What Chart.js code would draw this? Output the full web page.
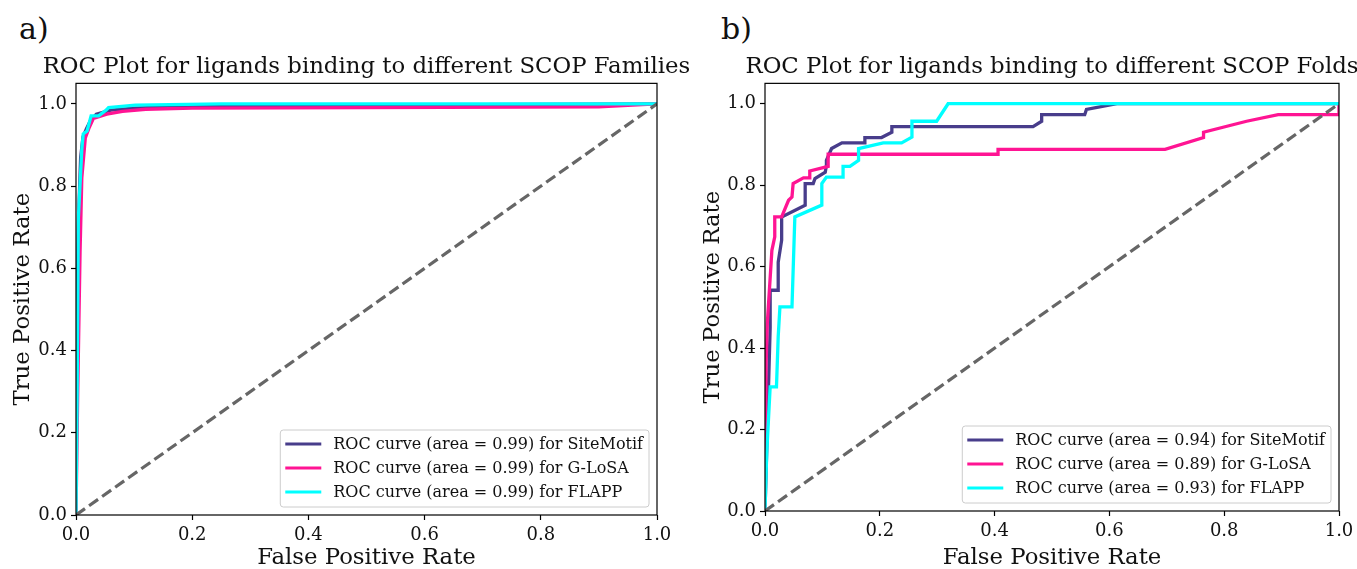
<!DOCTYPE html>
<html>
<head>
<meta charset="utf-8">
<script src="https://cdn.jsdelivr.net/npm/chart.js@4.4.1/dist/chart.umd.min.js"></script>
<style>
    html, body { margin: 0; padding: 0; background: #fff; overflow: hidden; }
    body { width: 1357px; height: 569px; position: relative; }
    .panel { position: absolute; top: 0; height: 569px; }
    .tag { position: absolute; top: 11px; font-family: 'DejaVu Serif', serif; font-size: 30px; color: #111; }
</style>
</head>
<body>
<div class="tag" style="left:19px">a)</div>
<div class="tag" style="left:721px">b)</div>
<div class="panel" style="left:0;width:733px"><canvas id="famChart"></canvas></div>
<div class="panel" style="left:690px;width:724px"><canvas id="foldChart"></canvas></div>
<script>
const SERIF = "'DejaVu Serif', serif";

const methods = ['SiteMotif', 'G-LoSA', 'FLAPP'];
const methodColors = ['#483d8b', '#ff1493', '#00ffff'];
const tickValues = [0, 0.2, 0.4, 0.6, 0.8, 1.0];

// a) SCOP families
const famAreas = [0.99, 0.99, 0.99];
const famFprSite = [0, 0.002, 0.005, 0.008, 0.012, 0.018, 0.025, 0.035, 0.06, 0.1, 0.2, 1.0];
const famTprSite = [0, 0.55, 0.75, 0.87, 0.92, 0.94, 0.96, 0.975, 0.985, 0.99, 0.995, 1.0];
const famFprGlo = [0, 0.003, 0.007, 0.01, 0.016, 0.022, 0.03, 0.053, 0.08, 0.12, 0.2, 0.5, 0.9, 1.0];
const famTprGlo = [0, 0.3, 0.64, 0.82, 0.917, 0.94, 0.965, 0.975, 0.982, 0.987, 0.99, 0.991, 0.993, 1.0];
const famFprFla = [0, 0.002, 0.004, 0.01, 0.0125, 0.019, 0.026, 0.039, 0.052, 0.056, 0.102, 0.25, 1.0];
const famTprFla = [0, 0.3, 0.72, 0.89, 0.927, 0.934, 0.971, 0.971, 0.985, 0.991, 0.997, 1.0, 1.0];

// b) SCOP folds
const foldAreas = [0.94, 0.89, 0.93];
const foldFprSite = [0, 0.003, 0.009, 0.009, 0.023, 0.023, 0.029, 0.029, 0.07, 0.07, 0.084, 0.087, 0.105, 0.107, 0.107,
    0.116, 0.134, 0.174, 0.174, 0.203, 0.221, 0.221, 0.467, 0.482, 0.482, 0.557, 0.56, 0.613, 1.0];
const foldTprSite = [0, 0.15, 0.45, 0.542, 0.542, 0.611, 0.665, 0.722, 0.751, 0.804, 0.804, 0.816, 0.832, 0.849, 0.861,
    0.89, 0.904, 0.904, 0.917, 0.917, 0.93, 0.944, 0.944, 0.957, 0.973, 0.973, 0.986, 1.0, 1.0];
const foldFprGlo = [0, 0.002, 0.004, 0.012, 0.017, 0.017, 0.029, 0.041, 0.047, 0.049, 0.067, 0.078, 0.078, 0.11, 0.11,
    0.406, 0.406, 0.697, 0.764, 0.764, 0.839, 0.894, 1.0, 1.0];
const foldTprGlo = [0, 0.363, 0.46, 0.64, 0.673, 0.722, 0.722, 0.763, 0.771, 0.804, 0.818, 0.818, 0.835, 0.846, 0.876,
    0.876, 0.888, 0.888, 0.917, 0.93, 0.957, 0.973, 0.973, 1.0];
const foldFprFla = [0, 0.003, 0.009, 0.02, 0.023, 0.026, 0.047, 0.052, 0.099, 0.099, 0.107, 0.136, 0.136, 0.148, 0.163,
    0.163, 0.206, 0.238, 0.256, 0.256, 0.299, 0.319, 1.0];
const foldTprFla = [0, 0.142, 0.305, 0.305, 0.428, 0.501, 0.501, 0.722, 0.751, 0.804, 0.82, 0.82, 0.846, 0.846, 0.861,
    0.89, 0.904, 0.904, 0.918, 0.957, 0.957, 1.0, 1.0];

const chancePoints = [0, 1];

function toPoints(xs, ys) {
    return xs.map((x, i) => ({ x, y: ys[i] }));
}

// box around the axes + matplotlib style legend in the lower right
const framePlugin = {
    id: 'frame',
    afterDraw(chart, args, opts) {
        const { ctx, chartArea: a } = chart;
        ctx.save();
        ctx.strokeStyle = '#000';
        ctx.lineWidth = 1.2;
        ctx.strokeRect(a.left, a.top, a.right - a.left, a.bottom - a.top);

        const items = opts.items || [];
        ctx.font = `16px ${SERIF}`;
        const textW = Math.max(...items.map((it) => ctx.measureText(it.label).width));
        const rowH = 24;
        const boxW = 53 + textW + 6;
        const boxH = items.length * rowH + 5;
        const bx = a.right - 8 - boxW;
        const by = a.bottom - 8 - boxH;
        ctx.fillStyle = 'rgba(255,255,255,0.85)';
        ctx.strokeStyle = '#cccccc';
        ctx.lineWidth = 1;
        ctx.beginPath();
        ctx.roundRect(bx, by, boxW, boxH, 3);
        ctx.fill();
        ctx.stroke();
        items.forEach((it, i) => {
            const cy = by + 14 + i * rowH;
            ctx.strokeStyle = it.color;
            ctx.lineWidth = 3.2;
            ctx.beginPath();
            ctx.moveTo(bx + 5, cy);
            ctx.lineTo(bx + 41, cy);
            ctx.stroke();
            ctx.fillStyle = '#111';
            ctx.textBaseline = 'middle';
            ctx.fillText(it.label, bx + 53, cy + 1);
        });
        ctx.restore();
    },
};

function buildRocChart(canvasId, title, series, areas, axisWidth, axisHeight, sidePad) {
    const datasets = series.map(([xs, ys], i) => ({
        label: methods[i],
        data: toPoints(xs, ys),
        borderColor: methodColors[i],
        borderWidth: 3.3,
        pointRadius: 0,
        showLine: true,
        order: 3 - i,
    }));
    datasets.push({
        label: 'chance',
        data: toPoints(chancePoints, chancePoints),
        borderColor: '#666666',
        borderWidth: 3.2,
        borderDash: [11, 5],
        pointRadius: 0,
        showLine: true,
        order: 0,
    });

    const legendItems = methods.map((m, i) => ({
        label: `ROC curve (area = ${areas[i].toFixed(2)}) for ${m}`,
        color: methodColors[i],
    }));

    const tickStyle = {
        display: true,
        drawOnChartArea: false,
        drawTicks: true,
        tickLength: 5,
        tickWidth: 1.2,
        tickColor: '#000',
    };

    return new Chart(document.getElementById(canvasId), {
        type: 'scatter',
        data: { datasets },
        options: {
            responsive: true,
            maintainAspectRatio: false,
            animation: false,
            layout: { padding: 0 },
            plugins: {
                legend: { display: false },
                tooltip: { enabled: false },
                title: {
                    display: true,
                    text: title,
                    color: '#111',
                    font: { family: SERIF, size: 22.8, weight: 'normal' },
                    padding: { top: 53, bottom: 3 },
                },
                frame: { items: legendItems },
            },
            scales: {
                x: {
                    type: 'linear',
                    min: 0,
                    max: 1,
                    border: { display: false },
                    grid: tickStyle,
                    afterBuildTicks: (s) => { s.ticks = tickValues.map((v) => ({ value: v })); },
                    afterFit: (s) => { s.height = axisHeight; },
                    ticks: {
                        color: '#111',
                        padding: 5,
                        font: { family: SERIF, size: 18 },
                        callback: (v) => Number(v).toFixed(1),
                    },
                    title: {
                        display: true,
                        text: 'False Positive Rate',
                        color: '#111',
                        font: { family: SERIF, size: 22.8 },
                        padding: { top: 0, bottom: -3 },
                    },
                },
                y: {
                    type: 'linear',
                    min: 0,
                    max: 1.05,
                    border: { display: false },
                    grid: tickStyle,
                    afterBuildTicks: (s) => { s.ticks = tickValues.map((v) => ({ value: v })); },
                    afterFit: (s) => { s.width = axisWidth; },
                    ticks: {
                        color: '#111',
                        padding: 4,
                        font: { family: SERIF, size: 18 },
                        callback: (v) => Number(v).toFixed(1),
                    },
                    title: {
                        display: true,
                        text: 'True Positive Rate',
                        color: '#111',
                        font: { family: SERIF, size: 22.8 },
                        padding: { top: 9, bottom: 9 },
                    },
                },
                // empty right-hand gutter so the title centres over the plot box
                gutter: {
                    type: 'linear',
                    position: 'right',
                    display: true,
                    border: { display: false },
                    grid: { display: false },
                    ticks: { display: false },
                    afterFit: (s) => { s.width = sidePad; },
                },
            },
        },
        plugins: [framePlugin],
    });
}

buildRocChart('famChart', 'ROC Plot for ligands binding to different SCOP Families',
    [[famFprSite, famTprSite], [famFprGlo, famTprGlo], [famFprFla, famTprFla]],
    famAreas, 76, 54, 76);

buildRocChart('foldChart', 'ROC Plot for ligands binding to different SCOP Folds',
    [[foldFprSite, foldTprSite], [foldFprGlo, foldTprGlo], [foldFprFla, foldTprFla]],
    foldAreas, 75, 58, 75);
</script>
</body>
</html>
